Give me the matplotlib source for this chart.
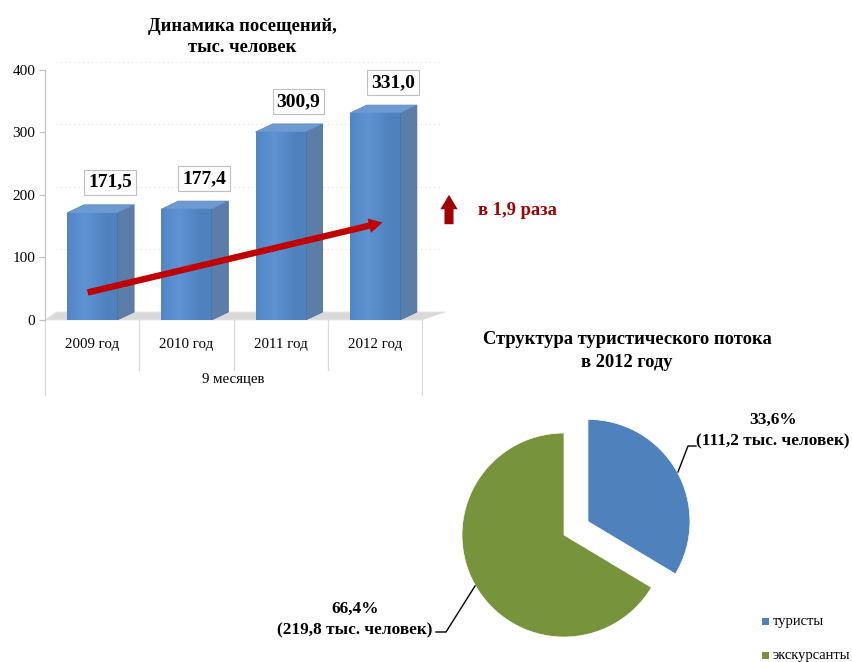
import matplotlib
matplotlib.use("Agg")
import matplotlib.pyplot as plt
import numpy as np
from matplotlib.patches import Polygon, Rectangle, FancyArrowPatch
from matplotlib.lines import Line2D

W, H = 852, 662
plt.rcParams['font.family'] = ['Liberation Serif', 'DejaVu Serif']

# ---- data ----
bar_title = "Динамика посещений,\nтыс. человек"
years = ["2009 год", "2010 год", "2011 год", "2012 год"]
group_label = "9 месяцев"
visits = [171.5, 177.4, 300.9, 331.0]
visit_labels = ["171,5", "177,4", "300,9", "331,0"]
yticks = [0, 100, 200, 300, 400]
growth_text = "в 1,9 раза"

pie_title = "Структура туристического потока\nв 2012 году"
pie_names = ["туристы", "экскурсанты"]
pie_shares = [33.6, 66.4]
pie_labels = ["33,6%\n(111,2 тыс. человек)", "66,4%\n(219,8 тыс. человек)"]

blue = "#4F81BD"
green = "#77933C"
dred = "#C00000"

fig = plt.figure(figsize=(W / 100, H / 100), dpi=100)
fig.patch.set_facecolor("white")


def fx(px):
    return px / W


def fy(py):
    return 1 - py / H


# ---- bar chart ----
L, R, T, B = 45, 422, 70, 320
ax = fig.add_axes([fx(L), fy(B), (R - L) / W, (B - T) / H])
ax.set_xlim(-0.5, 3.5)
ax.set_ylim(0, 400)
for s in ["top", "right", "bottom"]:
    ax.spines[s].set_visible(False)
ax.spines["left"].set_color("#BFBFBF")
ax.set_yticks(yticks)
ax.set_yticklabels([str(v) for v in yticks], fontsize=11)
ax.tick_params(axis="y", length=4, color="#BFBFBF", pad=3)
ax.set_xticks(range(len(years)))
ax.set_xticklabels(years, fontsize=10.7)
ax.tick_params(axis="x", length=0, pad=13)

# faint back-wall gridlines
dx_depth, dy_depth = 0.18, 12.8
for v in yticks[1:]:
    ax.plot([-0.5 + 0.12, 3.5 + 0.2], [v + dy_depth, v + dy_depth], ls=(0, (1, 3)),
            color="#E3E3E3", lw=0.8, clip_on=False, zorder=0)

# floor
floor = Polygon([(-0.5, 0), (3.5, 0), (3.5 + 0.25, dy_depth), (-0.5 + 0.12, dy_depth)],
                closed=True, facecolor="#D9D9D9", edgecolor="#E6E6E6", lw=0.6,
                clip_on=False, zorder=1)
ax.add_patch(floor)

bw = 0.53
base = np.array([0x4F, 0x81, 0xBD]) / 255
light = np.array([0x5E, 0x93, 0xD4]) / 255
for i, v in enumerate(visits):
    x0 = i - bw / 2
    x1 = i + bw / 2
    side = Polygon([(x1, 0), (x1 + dx_depth, dy_depth), (x1 + dx_depth, v + dy_depth), (x1, v)],
                   closed=True, facecolor="#5B7DA8", edgecolor="#4E6E98", lw=0.6,
                   joinstyle="round", zorder=2)
    ax.add_patch(side)
    top = Polygon([(x0, v), (x1, v), (x1 + dx_depth, v + dy_depth), (x0 + dx_depth, v + dy_depth)],
                  closed=True, facecolor="#6E9AD2", edgecolor="#5F8CC6", lw=0.6,
                  joinstyle="round", zorder=3)
    ax.add_patch(top)
    front = Rectangle((x0, 0), bw, v, facecolor=blue, edgecolor="#4675AE", lw=0.6, zorder=4)
    ax.add_patch(front)
    grad = np.linspace(0, 1, 64)
    cimg = np.zeros((1, 64, 3))
    for k in range(64):
        t = max(0.0, 1 - abs(grad[k] - 0.35) * 2.2)
        cimg[0, k] = base * (1 - t) + light * t
    im = ax.imshow(cimg, extent=(x0, x1, 0, v), aspect="auto", zorder=4.5, interpolation="bilinear")
    im.set_clip_path(front)
    ax.text(i + 0.19, v + 49, visit_labels[i], ha="center", va="center", fontsize=14,
            fontweight="bold", zorder=6,
            bbox=dict(boxstyle="square,pad=0.2", facecolor="white", edgecolor="#BFBFBF", lw=0.8))

ax.set_xlim(-0.5, 3.5)
ax.set_ylim(0, 400)

# category grouping lines
xt = ax.get_xaxis_transform()
for k, xb in enumerate([-0.5, 0.5, 1.5, 2.5, 3.5]):
    bottom = -0.3 if k in (0, 4) else -0.2
    ax.plot([xb, xb], [0, bottom], transform=xt, color="#D9D9D9", lw=0.9, clip_on=False)
ax.text(1.5, -0.24, group_label, transform=xt, ha="center", va="center", fontsize=10.7)

# trend arrow
arr = FancyArrowPatch((-0.076, 43), (3.11, 157),
                      arrowstyle="simple,head_length=0.7,head_width=0.75,tail_width=0.33",
                      mutation_scale=14, color=dred, lw=0, zorder=7)
ax.add_patch(arr)

# title
fig.text(fx(242), fy(37), bar_title, ha="center", va="center", fontsize=13.3,
         fontweight="bold", linespacing=1.35)

# growth arrow and text
up = FancyArrowPatch((fx(449), fy(227)), (fx(449), fy(192)), transform=fig.transFigure,
                     arrowstyle="simple,head_length=0.8,head_width=0.95,tail_width=0.5",
                     mutation_scale=13, color="#A00000", lw=0)
fig.add_artist(up)
fig.text(fx(478), fy(211), growth_text, ha="left", va="center", fontsize=13.3,
         fontweight="bold", color="#A00000")

# ---- pie chart ----
cx, cy, rad = 564, 535, 102
span = 1.5
pax = fig.add_axes([fx(cx - rad * span), fy(cy + rad * span), 2 * rad * span / W, 2 * rad * span / H])
wedges, _ = pax.pie(pie_shares, colors=[blue, green], startangle=90, counterclock=False,
                    explode=[0.27, 0], radius=1, center=(0, 0), frame=True,
                    wedgeprops=dict(edgecolor="white", linewidth=0.5))
pax.set_aspect("auto")
pax.set_xlim(-span, span)
pax.set_ylim(-span, span)
pax.axis("off")
for w in wedges:
    w.set_clip_on(False)

fig.text(fx(627), fy(351), pie_title, ha="center", va="center", fontsize=13.3,
         fontweight="bold", linespacing=1.45)

fig.text(fx(773), fy(431), pie_labels[0], ha="center", va="center", fontsize=12.4,
         fontweight="bold", linespacing=1.45)
fig.text(fx(355), fy(620), pie_labels[1], ha="center", va="center", fontsize=12.4,
         fontweight="bold", linespacing=1.45)

fig.add_artist(Line2D([fx(696), fx(688), fx(678)], [fy(446), fy(446), fy(472)],
                      transform=fig.transFigure, color="black", lw=1))
fig.add_artist(Line2D([fx(436), fx(446), fx(475)], [fy(632), fy(632), fy(586)],
                      transform=fig.transFigure, color="black", lw=1))

# legend
for k, (name, col) in enumerate(zip(pie_names, [blue, green])):
    yy = 621 + k * 34
    fig.add_artist(Rectangle((fx(762), fy(yy + 4)), 7 / W, 7 / H, transform=fig.transFigure,
                             facecolor=col, edgecolor="none"))
    fig.text(fx(773), fy(yy), name, ha="left", va="center", fontsize=10.5)

fig.savefig("out.png", dpi=100, facecolor="white")
